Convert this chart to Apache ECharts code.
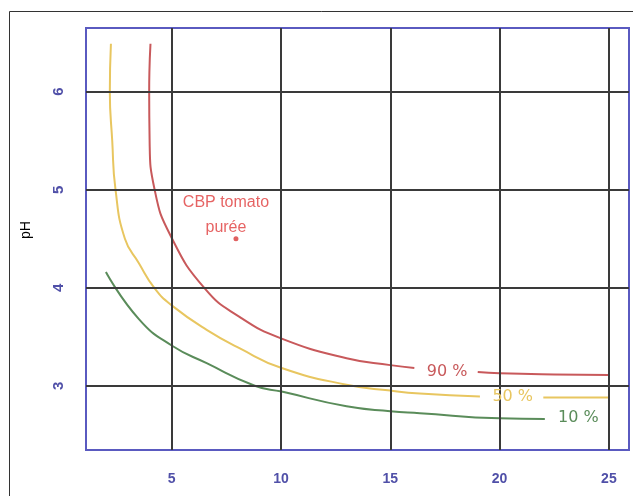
<!DOCTYPE html>
<html>
<head>
<meta charset="utf-8">
<script src="https://cdn.jsdelivr.net/npm/echarts@6/dist/echarts.min.js"></script>
<style>
  html, body { margin: 0; padding: 0; background: #fff; }
  #chart { width: 633px; height: 496px; }
</style>
</head>
<body>
<div id="chart"></div>
<script>
// curves, [x, pH]
var curve90a = [[4.03, 6.49], [3.98, 6.2], [3.97, 6.0], [3.99, 5.5], [4.22, 5.0], [4.95, 4.53],
                [6.52, 3.99], [8.12, 3.70], [10.03, 3.48], [13.0, 3.28], [15.0, 3.21], [16.1, 3.18]];
var curve90b = [[19.0, 3.14], [20.0, 3.127], [22.5, 3.115], [25.0, 3.11]];
var curve50a = [[2.22, 6.49], [2.17, 6.0], [2.28, 5.5], [2.43, 5.0], [2.86, 4.5], [3.5, 4.25], [4.23, 3.99],
                [5.0, 3.82], [6.6, 3.57], [8.12, 3.38], [10.03, 3.18], [13.0, 3.01], [15.0, 2.95], [16.35, 2.92], [19.1, 2.89]];
var curve50b = [[22.0, 2.88], [25.0, 2.88]];
var curve10 = [[1.99, 4.16], [3.5, 3.68], [5.0, 3.41], [6.6, 3.23], [8.8, 3.0], [10.03, 2.94],
               [13.0, 2.79], [15.0, 2.74], [16.35, 2.72], [20.0, 2.667], [22.07, 2.66]];
var tomato = [[7.94, 4.5]];

// where the curve names sit on the lines
var label90 = [17.6, 3.14];
var label50 = [20.6, 2.886];
var label10 = [23.6, 2.67];

var xTicks = [5, 10, 15, 20, 25];
var yTicks = [3, 4, 5, 6];

var red = '#c8595b', yellow = '#e8c660', green = '#5a8c5a';

function curve(data, color) {
    return {
        type: 'line',
        data: data,
        smooth: 0.5,
        symbol: 'none',
        z: 3,
        lineStyle: { color: color, width: 2 }
    };
}

function tag(pos, text, color) {
    return {
        symbol: 'circle',
        symbolSize: 1,
        itemStyle: { color: 'rgba(0,0,0,0)' },
        label: { show: true, position: 'inside', color: color, fontSize: 16,
                 fontFamily: 'DejaVu Sans' },
        data: [{ coord: pos, value: text, label: { formatter: text } }]
    };
}

var gridLines = xTicks.map(function (v) { return { xAxis: v }; })
    .concat(yTicks.map(function (v) { return { yAxis: v }; }));

var myChart = echarts.init(document.getElementById('chart'));

var option = {
    animation: false,
    graphic: [{
        type: 'rect',
        shape: { x: 9.5, y: 11.5, width: 700, height: 600 },
        style: { fill: 'none', stroke: '#333', lineWidth: 1 },
        silent: true
    }],
    grid: {
        left: 86, top: 28, right: 4, bottom: 46,
        show: true,
        borderColor: '#5a5ac0',
        borderWidth: 2
    },
    xAxis: {
        type: 'value',
        min: 1.08,
        max: 25.92,
        axisLine: { show: false },
        axisTick: { show: false },
        splitLine: { show: false },
        axisLabel: {
            customValues: xTicks,
            color: '#5050a8',
            fontSize: 14,
            fontWeight: 'bold',
            fontFamily: 'Liberation Sans',
            margin: 22
        }
    },
    yAxis: {
        type: 'value',
        min: 2.344,
        max: 6.65,
        name: 'pH',
        nameLocation: 'middle',
        nameRotate: 90,
        nameGap: 53,
        nameTextStyle: { color: '#000', fontSize: 14, fontFamily: 'Liberation Sans', padding: [0, 0, 0, 18] },
        axisLine: { show: false },
        axisTick: { show: false },
        splitLine: { show: false },
        axisLabel: {
            customValues: yTicks,
            rotate: 90,
            color: '#5050a8',
            fontSize: 15,
            fontWeight: 'bold',
            fontFamily: 'Liberation Sans',
            margin: 20
        }
    },
    series: [
        {
            type: 'line',
            data: [],
            z: 1,
            markLine: {
                silent: true,
                symbol: 'none',
                label: { show: false },
                lineStyle: { color: '#3a3a3a', width: 2, type: 'solid' },
                data: gridLines
            }
        },
        Object.assign(curve(curve90a, red), { markPoint: tag(label90, '90 %', red) }),
        curve(curve90b, red),
        Object.assign(curve(curve50a, yellow), { markPoint: tag(label50, '50 %', yellow) }),
        curve(curve50b, yellow),
        Object.assign(curve(curve10, green), { markPoint: tag(label10, '10 %', green) }),
        {
            type: 'scatter',
            data: tomato,
            symbolSize: 5,
            z: 4,
            itemStyle: { color: '#d83a3a' },
            label: {
                show: true,
                position: 'top',
                distance: 0,
                offset: [-10, 4],
                formatter: 'CBP tomato\npurée',
                color: '#e03c3c',
                fontSize: 16,
                lineHeight: 25,
                fontFamily: 'Liberation Sans'
            }
        }
    ]
};
myChart.setOption(option);

window.addEventListener('resize', function () {
    myChart.resize();
});
</script>
</body>
</html>
